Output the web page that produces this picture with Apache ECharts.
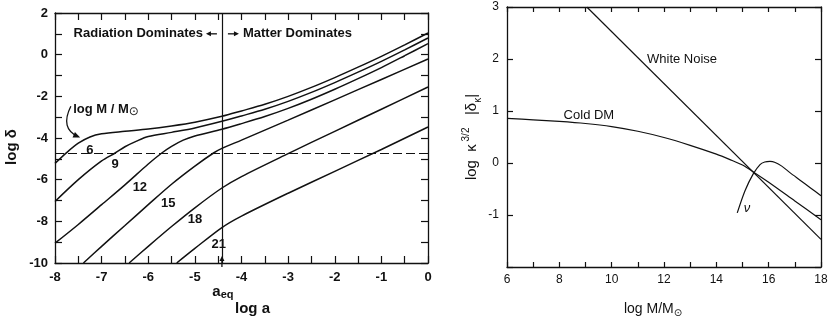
<!DOCTYPE html>
<html>
<head>
<meta charset="utf-8">
<script src="https://cdn.jsdelivr.net/npm/echarts@6/dist/echarts.min.js"></script>
<style>
  html, body { margin: 0; padding: 0; background: #fff; }
  #chart { width: 831px; height: 323px; }
</style>
</head>
<body>
<div id="chart"></div>
<script>
// ---- left panel: log delta vs log a, one curve per log M/Msun ----
const massLabels = ['6', '9', '12', '15', '18', '21']
const curve6 = [[-8, -5.22], [-7.75, -4.7], [-7.5, -4.25], [-7.25, -3.95], [-7, -3.8], [-6.5, -3.68], [-6, -3.57], [-5.5, -3.42], [-5, -3.24], [-4.42, -2.96], [-4, -2.7], [-3.5, -2.38], [-3, -2.0], [-2.5, -1.57], [-2, -1.1], [-1.5, -0.6], [-1, -0.08], [-0.5, 0.47], [0, 1.04]]
const curve9 = [[-8, -7.05], [-7.5, -6.0], [-7, -5.1], [-6.71, -4.72], [-6.5, -4.42], [-6.25, -4.15], [-6, -3.93], [-5.5, -3.73], [-5, -3.52], [-4.42, -3.2], [-4, -2.94], [-3.5, -2.62], [-3, -2.24], [-2.5, -1.81], [-2, -1.34], [-1.5, -0.84], [-1, -0.32], [-0.5, 0.23], [0, 0.8]]
const curve12 = [[-8, -9.05], [-7.5, -8.15], [-7, -7.2], [-6.5, -6.25], [-6, -5.25], [-5.71, -4.72], [-5.5, -4.4], [-5.25, -4.1], [-5, -3.9], [-4.42, -3.58], [-4, -3.31], [-3.5, -2.97], [-3, -2.58], [-2.5, -2.14], [-2, -1.66], [-1.5, -1.15], [-1, -0.62], [-0.5, -0.05], [0, 0.53]]
const curve15 = [[-7.39, -10], [-7, -9.2], [-6.5, -8.2], [-6, -7.2], [-5.5, -6.22], [-5, -5.35], [-4.6, -4.72], [-4.42, -4.5], [-4, -4.1], [-3, -3.14], [-2, -2.17], [-1, -1.19], [0, -0.21]]
const curve18 = [[-6.41, -10], [-6, -9.2], [-5.5, -8.25], [-5, -7.35], [-4.42, -6.4], [-4, -5.85], [-3, -4.75], [-2, -3.68], [-1, -2.62], [0, -1.55]]
const curve21 = [[-5.39, -10], [-5, -9.3], [-4.42, -8.3], [-4, -7.75], [-3, -6.65], [-2, -5.6], [-1, -4.55], [0, -3.47]]
const massCurves = [curve6, curve9, curve12, curve15, curve18, curve21]
const aEq = -4.42
const deltaLevel = -4.72

// ---- right panel: log k^3/2 |delta_k| vs log M/Msun ----
const whiteNoise = [[9.05, 3], [18, -1.47]]
const coldDM = [[6, 0.86], [7, 0.83], [8, 0.8], [9, 0.76], [10, 0.7], [11, 0.61], [12, 0.49], [13, 0.34], [14, 0.17], [14.5, 0.07], [15, -0.04], [15.5, -0.2], [16, -0.37], [17, -0.73], [18, -1.09]]
const neutrino = [[14.8, -0.96], [15.1, -0.53], [15.41, -0.21], [15.67, -0.03], [15.85, 0.02], [16.05, 0.03], [16.25, 0.01], [16.5, -0.06], [16.8, -0.18], [17.2, -0.33], [17.6, -0.48], [18, -0.63]]

const INK = '#111'
const FONT = '"Liberation Sans", "DejaVu Sans", Arial, sans-serif'

function frameAxis(gridIndex, position, min, max, interval, tickLen, extra) {
  return Object.assign({
    gridIndex, position, type: 'value', min, max, interval,
    axisLine: { onZero: false, lineStyle: { color: INK, width: 1.3 } },
    axisTick: { inside: true, length: tickLen, lineStyle: { color: INK, width: 1.2 } },
    axisLabel: { show: false },
    splitLine: { show: false },
  }, extra)
}

const leftLabel = { color: INK, fontSize: 13, fontWeight: 'bold', fontFamily: FONT }
const rightLabel = { color: INK, fontSize: 12, fontFamily: FONT }

const option = {
  animation: false,
  backgroundColor: '#fff',
  grid: [
    { left: 55, right: 403, top: 13, bottom: 60 },
    { left: 507, right: 10, top: 7, bottom: 53 },
  ],
  xAxis: [
    frameAxis(0, 'bottom', -8, 0, 0.5, 7, {
      axisLabel: Object.assign({ margin: 8, formatter: v => Number.isInteger(v) ? String(v) : '' }, leftLabel),
      name: 'log a', nameLocation: 'middle', nameGap: 38,
      nameTextStyle: { color: INK, fontSize: 15, fontWeight: 'bold', fontFamily: FONT, padding: [0, 0, 0, 22] },
    }),
    frameAxis(0, 'top', -8, 0, 0.5, 7),
    frameAxis(1, 'bottom', 6, 18, 1, 5, {
      axisLabel: Object.assign({ margin: 7, formatter: v => v % 2 === 0 ? String(v) : '' }, rightLabel),
      name: '{t|log M/M}{s|⊙}', nameLocation: 'middle', nameGap: 33,
      nameTextStyle: {
        padding: [0, 22, 0, 0],
        rich: {
          t: { color: INK, fontSize: 14, fontFamily: FONT, lineHeight: 18 },
          s: { color: INK, fontSize: 10, fontFamily: FONT, verticalAlign: 'bottom', lineHeight: 12 },
        },
      },
    }),
    frameAxis(1, 'top', 6, 18, 1, 5),
  ],
  yAxis: [
    frameAxis(0, 'left', -10, 2, 1, 7, {
      axisLabel: Object.assign({ margin: 7, formatter: v => v % 2 === 0 ? String(v) : '' }, leftLabel),
      name: 'log δ', nameLocation: 'middle', nameGap: 36,
      nameTextStyle: { color: INK, fontSize: 15, fontWeight: 'bold', fontFamily: FONT, padding: [0, 18, 0, 0] },
    }),
    frameAxis(0, 'right', -10, 2, 1, 7),
    frameAxis(1, 'left', -2, 3, 1, 6, {
      axisLabel: Object.assign({ margin: 8, formatter: v => v === -2 ? '' : String(v) }, rightLabel),
    }),
    frameAxis(1, 'right', -2, 3, 1, 6),
  ],
  series: [],
}

massCurves.forEach((data, i) => {
  option.series.push({
    type: 'line', name: massLabels[i], xAxisIndex: 0, yAxisIndex: 0,
    data, showSymbol: false, smooth: 0.3, silent: true,
    lineStyle: { color: INK, width: 1.5 },
  })
})
// a_eq divider and the dashed level
option.series[0].markLine = {
  silent: true, symbol: 'none', label: { show: false },
  data: [
    [{ coord: [aEq, -10], lineStyle: { color: INK, width: 1.2, type: 'solid' } }, { coord: [aEq, 2] }],
    { yAxis: deltaLevel, lineStyle: { color: INK, width: 1.2, type: [9, 4] } },
  ],
}

;[whiteNoise, coldDM, neutrino].forEach((data, i) => {
  option.series.push({
    type: 'line', xAxisIndex: 2, yAxisIndex: 2,
    data, showSymbol: false, smooth: i === 0 ? false : 0.3, silent: true,
    lineStyle: { color: INK, width: 1.2 },
  })
})

const chart = echarts.init(document.getElementById('chart'))
chart.setOption(option)

// annotations, placed through the axes
const pL = p => chart.convertToPixel({ xAxisIndex: 0, yAxisIndex: 0 }, p)
const pR = p => chart.convertToPixel({ xAxisIndex: 2, yAxisIndex: 2 }, p)
const massLabelAt = [[-7.25, -4.6], [-6.71, -5.28], [-6.18, -6.35], [-5.57, -7.12], [-5.0, -7.92], [-4.49, -9.12]]

const graphic = []
const txt = (pos, text, style, extra) => graphic.push(Object.assign({
  type: 'text', x: pos[0], y: pos[1], silent: true,
  style: Object.assign({ text, fill: INK, fontFamily: FONT, align: 'center', verticalAlign: 'middle' }, style),
}, extra))
// short straight arrow: tail -> head
const arrow = (x1, y1, x2, y2) => {
  const dx = x2 - x1, dy = y2 - y1, len = Math.hypot(dx, dy)
  const ux = dx / len, uy = dy / len
  graphic.push({
    type: 'line', silent: true,
    shape: { x1, y1, x2: x2 - ux * 3, y2: y2 - uy * 3 },
    style: { stroke: INK, lineWidth: 1.3 },
  })
  graphic.push({
    type: 'polygon', silent: true,
    shape: { points: [[x2, y2], [x2 - ux * 5 - uy * 2.5, y2 - uy * 5 + ux * 2.5], [x2 - ux * 5 + uy * 2.5, y2 - uy * 5 - ux * 2.5]] },
    style: { fill: INK },
  })
}

massLabels.forEach((t, i) => txt(pL(massLabelAt[i]), t, { fontSize: 13, fontWeight: 'bold' }))

// log M/M⊙ note with its curved arrow
txt(pL([-7.61, -2.64]), '{t|log M / M}{s|⊙}', {
  align: 'left',
  rich: {
    t: { fill: INK, fontSize: 13, fontWeight: 'bold', fontFamily: FONT, lineHeight: 16 },
    s: { fill: INK, fontSize: 12, fontFamily: '"DejaVu Sans"', verticalAlign: 'bottom', lineHeight: 14 },
  },
})
const a0 = pL([-7.66, -2.48]), ac = pL([-7.9, -3.55]), a1 = pL([-7.5, -3.94])
graphic.push({
  type: 'bezierCurve', silent: true,
  shape: { x1: a0[0], y1: a0[1], cpx1: ac[0], cpy1: ac[1], x2: a1[0], y2: a1[1] },
  style: { stroke: INK, lineWidth: 1.3, fill: null },
})
{
  const dx = a1[0] - ac[0], dy = a1[1] - ac[1], len = Math.hypot(dx, dy)
  const ux = dx / len, uy = dy / len
  graphic.push({
    type: 'polygon', silent: true,
    shape: { points: [[a1[0] + ux * 2, a1[1] + uy * 2], [a1[0] - ux * 5 - uy * 3, a1[1] - uy * 5 + ux * 3], [a1[0] - ux * 5 + uy * 3, a1[1] - uy * 5 - ux * 3]] },
    style: { fill: INK },
  })
}

// era labels either side of a_eq
const eq = pL([aEq, 1])
txt([eq[0] - 19, eq[1]], 'Radiation Dominates', { align: 'right', fontSize: 13, fontWeight: 'bold' })
arrow(eq[0] - 5, eq[1], eq[0] - 16, eq[1])
arrow(eq[0] + 6, eq[1], eq[0] + 17, eq[1])
txt([eq[0] + 21, eq[1]], 'Matter Dominates', { align: 'left', fontSize: 13, fontWeight: 'bold' })

// a_eq arrow under the axis
const eqBottom = pL([aEq, -10])
arrow(eqBottom[0], eqBottom[1] + 4, eqBottom[0], eqBottom[1] - 7)
txt([eqBottom[0] + 1, eqBottom[1] + 29], '{a|a}{s|eq}', {
  rich: {
    a: { fill: INK, fontSize: 15, fontWeight: 'bold', fontFamily: FONT, lineHeight: 16 },
    s: { fill: INK, fontSize: 11, fontWeight: 'bold', fontFamily: FONT, verticalAlign: 'bottom', lineHeight: 12 },
  },
})

// right panel y title, rotated to read upwards
const rMid = pR([6, 0.5])
txt([rMid[0] - 35, rMid[1]], '{t|log  κ}{u| 3/2}{t|   |δ}{d|κ}{t||}', {
  rich: {
    t: { fill: INK, fontSize: 15, fontFamily: FONT, lineHeight: 22 },
    u: { fill: INK, fontSize: 10, fontFamily: FONT, verticalAlign: 'top', lineHeight: 12 },
    d: { fill: INK, fontSize: 10, fontFamily: FONT, verticalAlign: 'bottom', lineHeight: 12 },
  },
}, { rotation: Math.PI / 2 })

// right panel curve names
txt(pR([12.69, 2.0]), 'White Noise', { fontSize: 13 })
txt(pR([9.13, 0.92]), 'Cold DM', { fontSize: 13 })
txt(pR([15.17, -0.88]), 'ν', { fontSize: 13, fontStyle: 'italic' })

chart.setOption({ graphic })
</script>
</body>
</html>
